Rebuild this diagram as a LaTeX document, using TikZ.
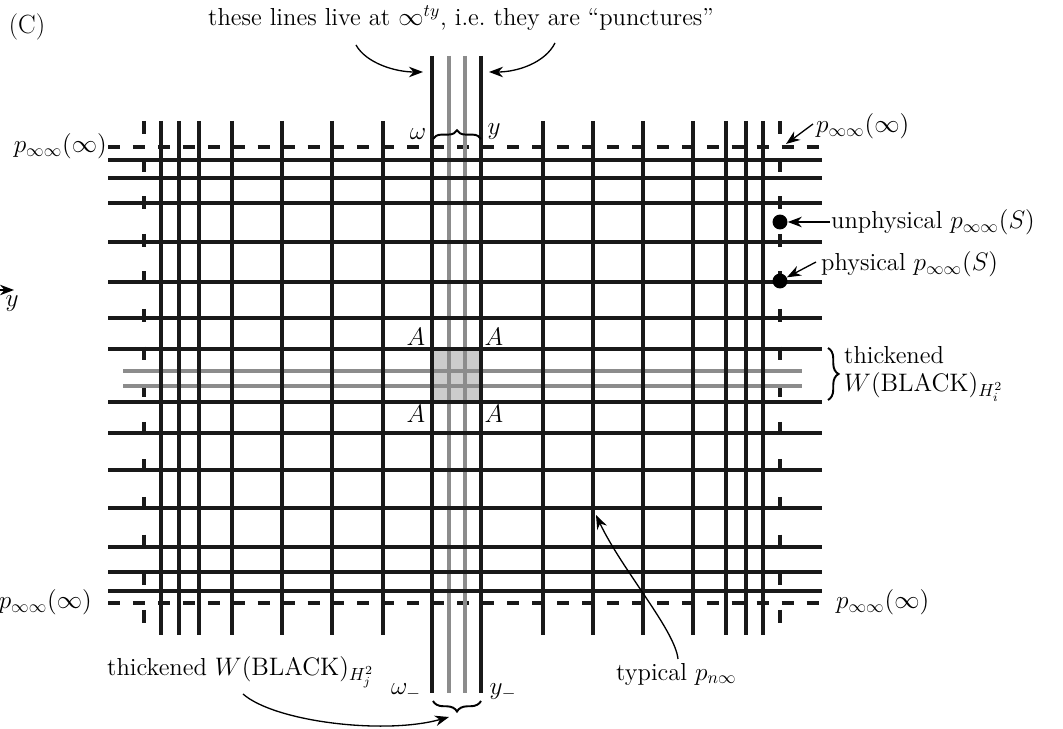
\documentclass[tikz,border=0pt]{standalone}
\usetikzlibrary{arrows.meta,decorations.pathreplacing}
\begin{document}
\begin{tikzpicture}[x=0.02cm,y=-0.02cm,
  blk/.style={line width=1.9pt,black!90},
  gry/.style={line width=1.9pt,color=black!45},
  hdash/.style={line width=1.9pt,black!90,dash pattern=on 6.8pt off 7.4pt},
  vdash/.style={line width=1.9pt,black!90,dash pattern=on 7.4pt off 14pt},
  arr/.style={line width=0.75pt,-{Stealth[length=8pt,width=6pt]}},
  brc/.style={line width=1.1pt,decorate},
  lbl/.style={font=\fontsize{14}{16}\selectfont,inner sep=0.5pt},
  dot/.style={circle,fill=black,inner sep=0pt,minimum size=8.5pt}]
\useasboundingbox (0,0) rectangle (1063,729);
% shaded square
\fill[black!20] (433,350) rectangle (481,401);
% dashed boundary lines
\draw[hdash] (108,147) -- (822,147);
\draw[hdash] (108,603) -- (822,603);
\draw[vdash] (144,121) -- (144,635);
\draw[vdash] (780,121) -- (780,635);
% gray thickened lines
\foreach \y in {371,386} \draw[gry] (123,\y) -- (802,\y);
\foreach \x in {449,465} \draw[gry] (\x,56) -- (\x,693);
% black horizontal lines
\foreach \y in {160,178,203,242,282,318,349,402,433,470,508,547,572,591}
  \draw[blk] (108,\y) -- (822,\y);
% black vertical lines
\foreach \x in {161,179,199,232,282,332,383,543,593,643,693,726,746,763}
  \draw[blk] (\x,121) -- (\x,635);
\foreach \x in {432,481} \draw[blk] (\x,56) -- (\x,693);
% labels
\node[lbl,font=\fontsize{15}{17}\selectfont] (C) at (27,27) {(C)};
\node[lbl] (top) at (461,18) {these lines live at $\infty^{ty}$, i.e.\ they are ``punctures''};
\node[lbl] (om) at (418,134) {$\omega$};
\node[lbl] (yy) at (494,132) {$y$};
\node[lbl] (om2) at (406,692) {$\omega_-$};
\node[lbl] (yy2) at (503,692) {$y_-$};
\node[lbl,anchor=east] (pTL) at (108,146) {$p_{\infty\infty}(\infty)$};
\node[lbl,anchor=east] (pBL) at (93,602) {$p_{\infty\infty}(\infty)$};
\node[lbl,anchor=west] (pBR) at (835,602) {$p_{\infty\infty}(\infty)$};
\node[lbl,anchor=west] (pTR) at (815,126) {$p_{\infty\infty}(\infty)$};
\node[lbl,anchor=west] (unph) at (830,222) {unphysical $p_{\infty\infty}(S)$};
\node[lbl,anchor=west] (phys) at (820,264) {physical $p_{\infty\infty}(S)$};
\node[lbl,anchor=west,align=left] (thkI) at (843,374) {thickened\\$W(\mathrm{BLACK})_{H_i^2}$};
\node[lbl,anchor=west] (thkJ) at (106,672) {thickened $W(\mathrm{BLACK})_{H_j^2}$};
\node[lbl,anchor=west] (typ) at (615,674) {typical $p_{n\infty}$};
\node[lbl] (A1) at (416,337) {$A$};
\node[lbl] (A2) at (494,337) {$A$};
\node[lbl] (A3) at (416,414) {$A$};
\node[lbl] (A4) at (494,414) {$A$};
\node[lbl] (ylab) at (12,304) {$y$};
% dots
\node[dot] (dU) at (780,222) {};
\node[dot] (dP) at (780,281) {};
% braces
\draw[brc,decoration={brace,amplitude=5pt}] (433,139) -- (481,139);
\draw[brc,decoration={brace,amplitude=6pt}] (481,701) -- (433,701);
\draw[brc,decoration={brace,amplitude=6pt}] (828,348) -- (828,400);
% arrows
\coordinate (a1s) at (356,45);
\coordinate (a1e) at (423,72);
\coordinate (a2s) at (555,43);
\coordinate (a2e) at (489,72);
\coordinate (tre) at (786,144);
\coordinate (bjs) at (243,694);
\coordinate (bje) at (449,717);
\coordinate (tys) at (678,659);
\coordinate (tye) at (596,515);
\coordinate (yls) at (-6,290);
\coordinate (yle) at (14,290);
\draw[arr] (a1s) .. controls (366,63) and (395,72) .. (a1e);
\draw[arr] (a2s) .. controls (545,63) and (517,72) .. (a2e);
\draw[arr] (813,124) -- (tre);
\draw[arr] (unph.west) -- (dU);
\draw[arr] (816,262) -- (dP);
\draw[arr] (bjs) .. controls (275,722) and (385,735) .. (bje);
\draw[arr] (tys) .. controls (675,630) and (622,570) .. (tye);
\draw[arr] (yls) -- (yle);
\end{tikzpicture}
\end{document}
